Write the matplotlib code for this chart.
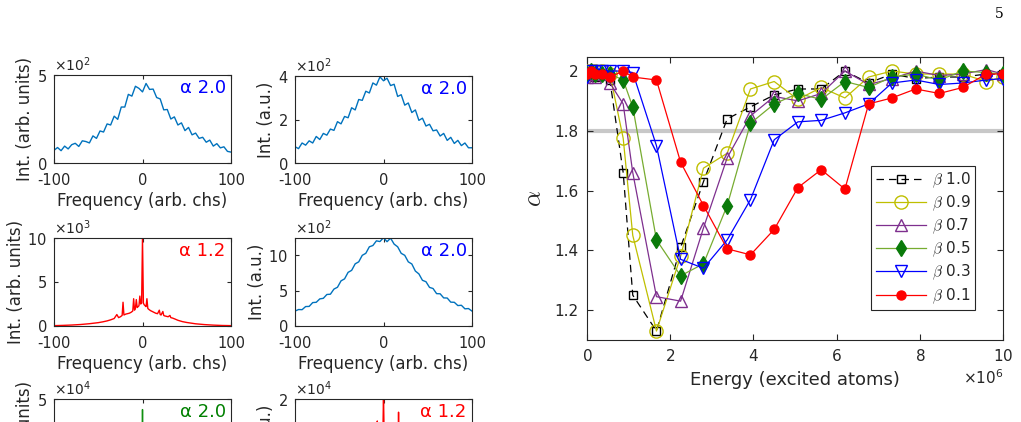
## spectra panels (left) and alpha vs energy (right)
import numpy as np
import matplotlib
matplotlib.use('Agg')
from matplotlib import pyplot as plt
from matplotlib.font_manager import FontProperties
from matplotlib.ticker import FuncFormatter

plt.rcParams['axes.unicode_minus'] = False
plt.rcParams['font.family'] = 'DejaVu Sans'

## spectra data
freq = list(range(-100, 101, 4))
spec_a = [72, 88, 70, 96, 80, 104, 112, 94, 126, 122,
          114, 154, 140, 182, 176, 222, 216, 266, 248, 318,
          318, 390, 380, 436, 424, 404, 452, 418, 420, 372,
          364, 302, 304, 250, 262, 216, 228, 184, 202, 160,
          170, 140, 146, 118, 130, 96, 110, 86, 92, 66,
          62]
spec_b = [75, 66, 92, 82, 102, 92, 122, 108, 136, 128,
          156, 150, 190, 180, 214, 208, 254, 244, 292, 288,
          330, 322, 368, 358, 396, 378, 390, 356, 362, 306,
          314, 266, 276, 232, 244, 196, 206, 170, 178, 148,
          152, 124, 136, 104, 118, 90, 104, 80, 92, 70,
          70]
spec_d = [210, 232, 230, 274, 276, 330, 334, 382, 390, 444,
          448, 520, 546, 636, 664, 756, 784, 876, 904, 996,
          1024, 1116, 1134, 1200, 1190, 1245, 1188, 1238, 1154, 1116,
          1024, 996, 904, 874, 774, 734, 644, 624, 544, 528,
          456, 454, 396, 394, 336, 334, 288, 292, 242, 246,
          210]
freq_c = [-100, -90, -80, -70, -60, -50, -45, -40, -36, -32,
          -29, -27, -25, -23, -22, -21, -19, -17, -15, -13,
          -11, -10, -9, -8, -7, -6, -5, -4, -3, -2,
          -1, 0, 1, 2, 3, 4, 5, 6, 7, 9,
          11, 13, 15, 17, 19, 20, 21, 23, 24, 25,
          27, 29, 31, 32, 34, 37, 40, 45, 50, 60,
          70, 80, 90, 100]
spec_c = [40, 70, 110, 170, 260, 380, 470, 580, 700, 850,
          1300, 950, 1050, 1200, 2700, 1250, 1350, 1400, 1450, 1550,
          1700, 3100, 1800, 2000, 3000, 2100, 2200, 2300, 3400, 2500,
          2600, 10000, 2600, 2400, 2300, 2200, 3100, 2000, 1900, 1750,
          1650, 1550, 1450, 1400, 1800, 1300, 1250, 1650, 1200, 1150,
          1100, 1050, 1200, 950, 900, 780, 650, 500, 400, 250,
          160, 100, 60, 40]
freq_e = [-100, -60, -30, -10, -3, -1, 0, 1, 3, 10, 30, 60, 100]
spec_e = [100, 500, 1500, 3000, 5000, 8000, 44000, 8000, 5000, 3000, 1500, 500, 100]
freq_f = [-100, -60, -30, -10, -8, -7, -6, -3, -1, 0, 1, 3, 10, 16, 17, 18, 30, 60, 100]
spec_f = [100, 400, 1500, 3500, 5000, 15000, 5000, 6000, 8000, 21000, 8000, 6000,
          4500, 4000, 17000, 4000, 2000, 500, 100]

## alpha vs energy data (energy in units of 1e6)
energy = [0, 0.1, 0.2, 0.35, 0.55, 0.87, 1.1, 1.67, 2.25, 2.8, 3.37, 3.93,
          4.5, 5.07, 5.63, 6.2, 6.77, 7.33, 7.9, 8.47, 9.03, 9.6, 10]
beta_labels = ['1.0', '0.9', '0.7', '0.5', '0.3', '0.1']
alpha_b10 = [1.99, 1.99, 1.98, 1.99, 1.97, 1.66, 1.25, 1.13, 1.41, 1.63, 1.84, 1.88,
             1.92, 1.94, 1.94, 2.0, 1.96, 1.99, 1.975, 1.98, 1.98, 1.99, 1.99]
alpha_b09 = [2.0, 2.0, 2.0, 2.0, 1.99, 1.775, 1.45, 1.13, 1.38, 1.675, 1.725, 1.94,
             1.965, 1.905, 1.945, 1.91, 1.98, 2.0, 1.99, 1.99, 1.99, 1.965, 1.98]
alpha_b07 = [1.98, 1.99, 1.98, 1.99, 1.96, 1.89, 1.66, 1.245, 1.23, 1.475, 1.71, 1.85,
             1.915, 1.9, 1.925, 2.0, 1.955, 1.975, 2.0, 1.985, 1.99, 2.005, 1.99]
alpha_b05 = [1.99, 2.0, 1.99, 1.99, 1.99, 1.97, 1.88, 1.435, 1.315, 1.355, 1.55, 1.825,
             1.89, 1.925, 1.905, 1.965, 1.945, 1.98, 1.99, 1.97, 2.0, 1.995, 1.99]
alpha_b03 = [1.98, 2.0, 2.0, 2.0, 2.0, 2.0, 1.995, 1.75, 1.37, 1.34, 1.435, 1.57,
             1.77, 1.83, 1.835, 1.86, 1.89, 1.96, 1.97, 1.955, 1.96, 1.97, 1.975]
alpha_b01 = [1.99, 2.0, 1.99, 1.99, 1.98, 2.0, 1.98, 1.97, 1.695, 1.55, 1.405, 1.385,
             1.47, 1.61, 1.67, 1.605, 1.89, 1.91, 1.94, 1.925, 1.945, 1.99, 1.99]

dark = '#262626'
W, H = 1021, 422
fig = plt.figure(figsize=(W / 100, H / 100), dpi=100)


def px_rect(left, top, right, bottom):
    return [left / W, (H - bottom) / H, (right - left) / W, (bottom - top) / H]


def spectrum(rect, x, y, color, ymax, yticks, expo, ylab, txt, txtcolor):
    ax = fig.add_axes(rect)
    ax.plot(x, y, color=color, lw=1)
    ax.set_xlim(-100, 100)
    ax.set_ylim(0, ymax)
    ax.set_xticks([-100, 0, 100])
    ax.set_yticks(yticks)
    ax.ticklabel_format(axis='y', style='sci', scilimits=(expo, expo), useMathText=True)
    ax.yaxis.get_offset_text().set_fontsize(10)
    ax.yaxis.get_offset_text().set_color(dark)
    ax.tick_params(direction='in', top=True, right=True, labelsize=10.5,
                   colors=dark, length=3)
    ax.tick_params(axis='x', pad=7)
    ax.tick_params(axis='y', pad=5)
    for s in ax.spines.values():
        s.set_color(dark)
    ax.set_xlabel('Frequency (arb. chs)', fontsize=12, color=dark, labelpad=3)
    ax.set_ylabel(ylab, fontsize=12, color=dark, labelpad=2)
    ax.text(0.97, 0.95, txt, transform=ax.transAxes, ha='right', va='top',
            color=txtcolor, fontsize=13)
    return ax


mblue = '#0072bd'
spectrum(px_rect(54, 75, 231, 163), freq, spec_a, mblue, 500, [0, 500], 2,
         'Int. (arb. units)', 'α 2.0', 'blue')
spectrum(px_rect(295, 76, 472, 163), freq, spec_b, mblue, 400, [0, 200, 400], 2,
         'Int. (a.u.)', 'α 2.0', 'blue')
spectrum(px_rect(54, 238, 231, 326), freq_c, spec_c, 'red', 10000, [0, 5000, 10000], 3,
         'Int. (arb. units)', 'α 1.2', 'red')
spectrum(px_rect(295, 238, 472, 326), freq, spec_d, mblue, 1240, [0, 500, 1000], 2,
         'Int. (a.u.)', 'α 2.0', 'blue')
spectrum(px_rect(54, 399, 231, 487), freq_e, spec_e, '#109010', 50000, [0, 50000], 4,
         'Int. (arb. units)', 'α 2.0', '#008000')
spectrum(px_rect(295, 399, 472, 487), freq_f, spec_f, 'red', 20000, [0, 20000], 4,
         'Int. (a.u.)', 'α 1.2', 'red')

## right panel
ax = fig.add_axes(px_rect(587, 57, 1003, 340))
e = np.array(energy) * 1e6
ax.axhline(1.8, color='#c8c8c8', lw=3, zorder=1)
series = [alpha_b10, alpha_b09, alpha_b07, alpha_b05, alpha_b03, alpha_b01]
styles = [dict(color='black', dashes=(6, 4), marker='s', ms=6, mfc='none'),
          dict(color='#bfbf00', ls='-', marker='o', ms=9.5, mfc='none'),
          dict(color='#7e2f8e', ls='-', marker='^', ms=9, mfc='none'),
          dict(color='#77ac30', ls='-', marker='d', ms=8, mfc='#0a7a0a', mec='#0a7a0a'),
          dict(color='blue', ls='-', marker='v', ms=8.5, mfc='none'),
          dict(color='red', ls='-', marker='o', ms=6.5, mfc='red')]
for vals, st, lab in zip(series, styles, beta_labels):
    ax.plot(e, vals, lw=0.9, label=r'$\beta$ ' + lab, zorder=3, **st)
ax.set_xlim(0, 1e7)
ax.set_ylim(1.1, 2.047)
ax.set_xticks([0, 2e6, 4e6, 6e6, 8e6, 1e7])
ax.set_yticks([1.2, 1.4, 1.6, 1.8, 2.0])
ax.yaxis.set_major_formatter(FuncFormatter(lambda v, p: '%g' % v))
ax.ticklabel_format(axis='x', style='sci', scilimits=(6, 6), useMathText=True)
ax.xaxis.get_offset_text().set_fontsize(11)
ax.xaxis.get_offset_text().set_color(dark)
ax.tick_params(direction='in', top=True, right=True, labelsize=11, colors=dark,
               length=4, pad=6)
for s in ax.spines.values():
    s.set_color(dark)
ax.set_xlabel('Energy (excited atoms)', fontsize=13, color=dark, labelpad=5)
ax.set_ylabel(r'$\alpha$', color=dark, labelpad=6,
              fontproperties=FontProperties(size=18, math_fontfamily='cm'))
leg = ax.legend(loc='lower right', bbox_to_anchor=(0.952, 0.078), fancybox=False,
                edgecolor=dark, framealpha=1, handlelength=3.3, labelspacing=0.25,
                borderpad=0.3, handletextpad=0.4,
                prop=FontProperties(size=11, math_fontfamily='cm'))
leg.get_frame().set_linewidth(0.8)
for t in leg.get_texts():
    t.set_color(dark)

fig.text(1004 / W, 1 - 14 / H, '5', family='DejaVu Serif', fontsize=10,
         ha='right', va='center')

fig.savefig('out.png', dpi=100)
